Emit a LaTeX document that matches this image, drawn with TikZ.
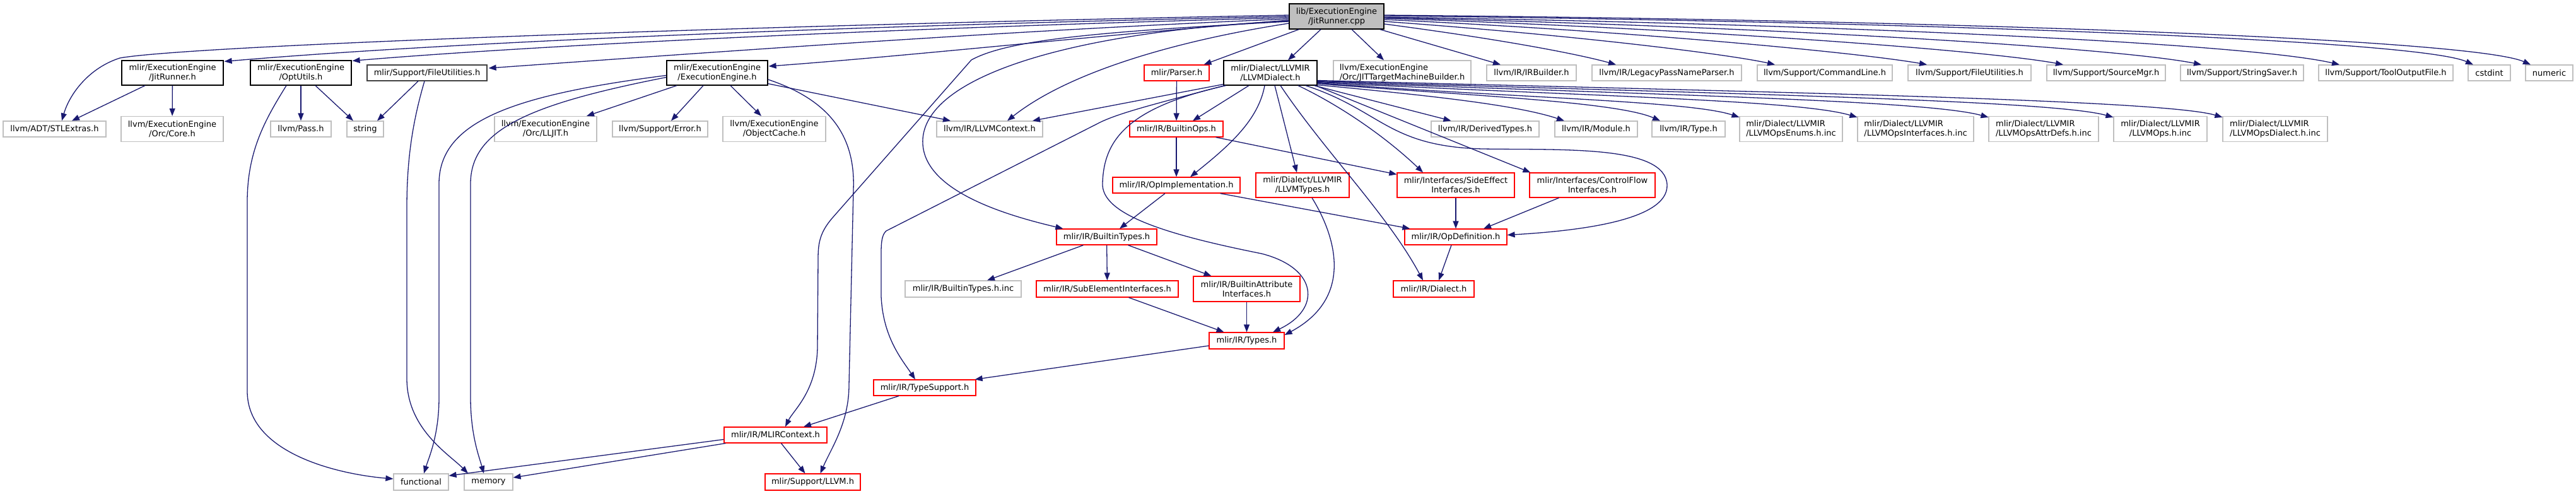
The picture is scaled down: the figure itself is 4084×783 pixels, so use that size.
\documentclass[tikz,border=0pt]{standalone}
\usepackage{fontspec}
\setmainfont{DejaVu Sans}
\usetikzlibrary{arrows.meta,calc}
\definecolor{edgec}{HTML}{191970}
\definecolor{grayb}{HTML}{BFBFBF}
\definecolor{redb}{HTML}{FF0000}
\definecolor{cppfill}{HTML}{BFBFBF}
\tikzset{
 gn/.style={rectangle, draw, fill=white, line width=1.2bp, inner sep=0pt,
   font=\fontsize{13bp}{15bp}\selectfont, align=center, text=black},
 gb/.style={gn, draw=grayb},
 rb/.style={gn, draw=redb},
 kb/.style={gn, draw=black},
 one/.style={minimum height=25bp},
 two/.style={minimum height=39bp},
 e/.style={draw=edgec, line width=1.3bp, -{Triangle[length=12bp,width=9bp]}},
}
\begin{document}
\begin{tikzpicture}[x=1bp,y=-1bp]
\useasboundingbox (0,0) rectangle (4084,783);
% ---- nodes ----
\node[kb, fill=cppfill, minimum width=150bp, minimum height=40bp] (cpp) at (2119,26) {lib/ExecutionEngine\\/JitRunner.cpp};
% row 1
\node[kb, two, minimum width=161bp] (jrh) at (273.5,115.5) {mlir/ExecutionEngine\\/JitRunner.h};
\node[kb, two, minimum width=160bp] (opt) at (477,115.5) {mlir/ExecutionEngine\\/OptUtils.h};
\node[kb, draw=black!75, one, minimum width=190bp] (mfu) at (677,115.5) {mlir/Support/FileUtilities.h};
\node[kb, two, minimum width=160bp] (eeh) at (1137,115.5) {mlir/ExecutionEngine\\/ExecutionEngine.h};
\node[rb, one, minimum width=103bp] (parser) at (1865.5,115.5) {mlir/Parser.h};
\node[kb, two, minimum width=148bp] (llvmd) at (2014,115.5) {mlir/Dialect/LLVMIR\\/LLVMDialect.h};
\node[gb, two, minimum width=218bp, align=left] (jtmb) at (2223,115.5) {llvm/ExecutionEngine\\/Orc/JITTargetMachineBuilder.h};
\node[gb, one, minimum width=142bp] (irb) at (2428,115.5) {llvm/IR/IRBuilder.h};
\node[gb, one, minimum width=237bp] (lpnp) at (2642.5,115.5) {llvm/IR/LegacyPassNameParser.h};
\node[gb, one, minimum width=214bp] (cl) at (2893,115.5) {llvm/Support/CommandLine.h};
\node[gb, one, minimum width=195bp] (lfu) at (3122.5,115.5) {llvm/Support/FileUtilities.h};
\node[gb, one, minimum width=188bp] (sm) at (3339,115.5) {llvm/Support/SourceMgr.h};
\node[gb, one, minimum width=195bp] (ss) at (3554.5,115.5) {llvm/Support/StringSaver.h};
\node[gb, one, minimum width=213bp] (tof) at (3782.5,115.5) {llvm/Support/ToolOutputFile.h};
\node[gb, one, minimum width=67bp] (cstdint) at (3946.5,115.5) {cstdint};
\node[gb, one, minimum width=75bp] (numeric) at (4041.5,115.5) {numeric};
% row 2
\node[gb, one, minimum width=163bp] (stl) at (86.5,204.5) {llvm/ADT/STLExtras.h};
\node[gb, minimum height=40bp, minimum width=162bp] (orc) at (273,204.5) {llvm/ExecutionEngine\\/Orc/Core.h};
\node[gb, one, minimum width=96bp] (pass) at (477,204.5) {llvm/Pass.h};
\node[gb, one, minimum width=58bp] (string) at (579,204.5) {string};
\node[gb, minimum height=40bp, minimum width=162bp] (lljit) at (865,204.5) {llvm/ExecutionEngine\\/Orc/LLJIT.h};
\node[gb, one, minimum width=151bp] (err) at (1046.5,204.5) {llvm/Support/Error.h};
\node[gb, minimum height=40bp, minimum width=163bp] (oc) at (1227.5,204.5) {llvm/ExecutionEngine\\/ObjectCache.h};
\node[gb, one, minimum width=168bp] (llvmctx) at (1569,204.5) {llvm/IR/LLVMContext.h};
\node[rb, one, minimum width=148bp] (bops) at (1865,204.5) {mlir/IR/BuiltinOps.h};
\node[gb, one, minimum width=171bp] (dt) at (2354.5,204.5) {llvm/IR/DerivedTypes.h};
\node[gb, one, minimum width=131bp] (mod) at (2530.5,204.5) {llvm/IR/Module.h};
\node[gb, one, minimum width=116bp] (type) at (2677,204.5) {llvm/IR/Type.h};
\node[gb, minimum height=40bp, minimum width=163bp, align=left] (enums) at (2839.5,204.5) {mlir/Dialect/LLVMIR\\/LLVMOpsEnums.h.inc};
\node[gb, minimum height=40bp, minimum width=184bp, align=left] (ifc) at (3037,204.5) {mlir/Dialect/LLVMIR\\/LLVMOpsInterfaces.h.inc};
\node[gb, minimum height=40bp, minimum width=174bp, align=left] (attr) at (3240,204.5) {mlir/Dialect/LLVMIR\\/LLVMOpsAttrDefs.h.inc};
\node[gb, minimum height=40bp, minimum width=148bp] (ops) at (3425,204.5) {mlir/Dialect/LLVMIR\\/LLVMOps.h.inc};
\node[gb, minimum height=40bp, minimum width=166bp, align=left] (opsd) at (3607,204.5) {mlir/Dialect/LLVMIR\\/LLVMOpsDialect.h.inc};
% row 3
\node[rb, one, minimum width=202bp] (opimpl) at (1865,293.5) {mlir/IR/OpImplementation.h};
\node[rb, two, minimum width=148bp] (llvmt) at (2065,293.5) {mlir/Dialect/LLVMIR\\/LLVMTypes.h};
\node[rb, two, minimum width=186bp] (se) at (2308,293.5) {mlir/Interfaces/SideEffect\\Interfaces.h};
\node[rb, two, minimum width=199bp] (cf) at (2524.5,293.5) {mlir/Interfaces/ControlFlow\\Interfaces.h};
% row 4
\node[rb, one, minimum width=159bp] (btypes) at (1754.5,375.5) {mlir/IR/BuiltinTypes.h};
\node[rb, one, minimum width=162bp] (opdef) at (2308,375.5) {mlir/IR/OpDefinition.h};
% row 5
\node[gb, minimum height=26bp, minimum width=184bp] (btinc) at (1527,458) {mlir/IR/BuiltinTypes.h.inc};
\node[rb, minimum height=26bp, minimum width=225bp] (subel) at (1755.5,458) {mlir/IR/SubElementInterfaces.h};
\node[rb, minimum height=40bp, minimum width=169bp] (bai) at (1976.5,458) {mlir/IR/BuiltinAttribute\\Interfaces.h};
\node[rb, minimum height=26bp, minimum width=128bp] (dialect) at (2273,458) {mlir/IR/Dialect.h};
% rows 6-9
\node[rb, minimum height=26bp, minimum width=119bp] (types) at (1976.5,540) {mlir/IR/Types.h};
\node[rb, one, minimum width=162bp] (tsup) at (1466,614.5) {mlir/IR/TypeSupport.h};
\node[rb, one, minimum width=163bp] (mctx) at (1229.5,689.5) {mlir/IR/MLIRContext.h};
\node[gb, minimum height=26bp, minimum width=87bp] (functional) at (667.5,764) {functional};
\node[gb, minimum height=26bp, minimum width=77bp] (memory) at (774.5,764) {memory};
\node[rb, minimum height=26bp, minimum width=151bp] (sllvm) at (1288.5,764) {mlir/Support/LLVM.h};

% ---- edges from the .cpp, going left ----
\draw[e] ($(cpp.west)+(0,-2)$) .. controls (1200,40) and (300,72) .. (190,92) .. controls (140,108) and (110,150) .. ($(stl.north)+(11.5,0)$);
\draw[e] (cpp.west) .. controls (1300,42) and (700,68) .. ($(jrh.north east)+(1,2)$);
\draw[e] ($(cpp.west)+(0,2)$) .. controls (1400,45) and (850,72) .. ($(opt.north east)+(1,1)$);
\draw[e] ($(cpp.west)+(0,4)$) .. controls (1600,48) and (1100,85) .. ($(mfu.east)+(2,-7.5)$);
\draw[e] ($(cpp.west)+(0,6)$) .. controls (1750,55) and (1450,88) .. ($(eeh.east)+(1,-10.5)$);
\draw[e] ($(cpp.west)+(0,11)$) .. controls (1880,62) and (1700,110) .. ($(llvmctx.north)+(28,0)$);
\draw[e] ($(cpp.west)+(0,8)$) .. controls (1750,50) and (1600,62) .. (1540,95) -- (1320,345) .. controls (1300,368) and (1297,385) .. (1297,410) -- (1296,550) .. controls (1295,620) and (1258,650) .. ($(mctx.north)+(15.5,0)$);
\draw[e] ($(cpp.west)+(0,7)$) .. controls (1700,50) and (1470,120) .. (1463,220) .. controls (1458,300) and (1590,340) .. ($(btypes.north west)+(11,0)$);
% ---- from the .cpp, downwards ----
\draw[e] ($(cpp.south west)+(16,0)$) -- ($(parser.north)+(43,0)$);
\draw[e] ($(cpp.south)+(-25,0)$) -- ($(llvmd.north)+(28,0)$);
\draw[e] ($(cpp.south)+(24,0)$) -- ($(jtmb.north)+(-29,0)$);
\draw[e] ($(cpp.south east)+(-7,0)$) -- ($(irb.north)+(-49,0)$);
% ---- from the .cpp, going right ----
\draw[e] ($(cpp.east)+(0,12)$) .. controls (2400,65) and (2510,88) .. ($(lpnp.north)+(-80.5,0)$);
\draw[e] ($(cpp.east)+(0,8)$) .. controls (2500,56) and (2740,86) .. ($(cl.north)+(-79,0)$);
\draw[e] ($(cpp.east)+(0,5)$) .. controls (2600,50) and (2950,84) .. ($(lfu.north)+(-67.5,0)$);
\draw[e] ($(cpp.east)+(0,3)$) .. controls (2700,46) and (3150,80) .. ($(sm.north)+(-68,0)$);
\draw[e] ($(cpp.east)+(0,2)$) .. controls (2800,42) and (3350,75) .. ($(ss.north)+(-64.5,0)$);
\draw[e] ($(cpp.east)+(0,1)$) .. controls (2900,38) and (3560,68) .. ($(tof.north)+(-73.5,0)$);
\draw[e] ($(cpp.east)+(0,-1)$) .. controls (3000,34) and (3830,62) .. ($(cstdint.north)+(-25.5,0)$);
\draw[e] ($(cpp.east)+(0,-2)$) .. controls (3100,32) and (3920,62) .. ($(numeric.north)+(-29.5,0)$);
% ---- ExecutionEngine.h ----
\draw[e] ($(eeh.south)+(-64,0)$) -- ($(lljit.north)+(65,0)$);
\draw[e] ($(eeh.south)+(-22,0)$) -- ($(err.north)+(17.5,0)$);
\draw[e] ($(eeh.south)+(21,0)$) -- ($(oc.north)+(-20.5,0)$);
\draw[e] ($(eeh.south east)+(0,-3)$) -- ($(llvmctx.north)+(-62,0)$);
\draw[e] ($(eeh.east)+(0,10.5)$) .. controls (1320,160) and (1356,220) .. (1353,300) -- (1346,610) .. controls (1346,670) and (1318,710) .. ($(sllvm.north)+(12,0)$);
\draw[e] ($(eeh.west)+(0,4)$) .. controls (820,150) and (697,190) .. (696,290) -- (696,630) .. controls (696,690) and (680,725) .. ($(functional.north)+(4.5,0)$);
\draw[e] ($(eeh.west)+(0,7)$) .. controls (840,165) and (747,205) .. (746,290) -- (746,630) .. controls (746,690) and (760,725) .. ($(memory.north)+(-7.5,0)$);
% ---- mlir/Support/FileUtilities.h ----
\draw[e] ($(mfu.south)+(-14,0)$) -- ($(string.north)+(19,0)$);
\draw[e] ($(mfu.south)+(-4,0)$) .. controls (652,200) and (645,260) .. (645,330) -- (645,600) .. controls (645,680) and (712,720) .. ($(memory.north)+(-32.5,0)$);
% ---- OptUtils.h ----
\draw[e] (opt) -- (pass);
\draw[e] ($(opt.south)+(23,0)$) -- ($(string.north)+(-19,0)$);
\draw[e] ($(opt.south)+(-23,0)$) .. controls (420,190) and (392,240) .. (392,320) -- (392,620) .. controls (392,720) and (540,752) .. ($(functional.west)+(0,-5)$);
% ---- JitRunner.h ----
\draw[e] ($(jrh.south)+(-43.5,0)$) -- ($(stl.north)+(27.5,0)$);
\draw[e] (jrh) -- (orc);
% ---- LLVMDialect.h ----
\draw[e] ($(llvmd.south west)+(0,-2)$) -- ($(llvmctx.north)+(68,0)$);
\draw[e] ($(llvmd.south west)+(2,0)$) .. controls (1830,165) and (1770,180) .. (1740,196) -- (1405,366) .. controls (1398,372) and (1397,385) .. (1397,400) -- (1397,470) .. controls (1400,535) and (1430,570) .. ($(tsup.north)+(-15,0)$);
\draw[e] ($(llvmd.south west)+(4,0)$) .. controls (1790,170) and (1750,220) .. (1748,290) .. controls (1745,340) and (1850,372) .. (2000,402) .. controls (2090,425) and (2095,490) .. ($(types.north)+(41.5,0)$);
\draw[e] ($(llvmd.south)+(-34,0)$) -- ($(bops.north)+(26,0)$);
\draw[e] ($(llvmd.south)+(-9,0)$) .. controls (1995,190) and (1950,230) .. ($(opimpl.north)+(22,0)$);
\draw[e] ($(llvmd.south)+(7,0)$) -- ($(llvmt.north)+(-9,0)$);
\draw[e] ($(llvmd.south)+(44,0)$) .. controls (2130,170) and (2200,220) .. ($(se.north)+(-52,0)$);
\draw[e] ($(llvmd.south east)+(-3,0)$) -- ($(cf.north west)+(2,0)$);
\draw[e] ($(llvmd.south)+(56,0)$) .. controls (2190,175) and (2200,232) .. (2350,236) .. controls (2480,238) and (2640,230) .. (2643,293) .. controls (2645,350) and (2500,366) .. ($(opdef.east)+(0,-3)$);
\draw[e] ($(llvmd.south)+(16,0)$) .. controls (2100,240) and (2200,340) .. ($(dialect.north)+(-17,0)$);
\draw[e] ($(llvmd.south east)+(-5,0)$) -- ($(dt.north)+(-54,0)$);
\draw[e] ($(llvmd.south east)+(0,-1)$) .. controls (2250,150) and (2400,165) .. ($(mod.north)+(-50.5,0)$);
\draw[e] ($(llvmd.east)+(0,17)$) .. controls (2300,150) and (2560,160) .. ($(type.north)+(-45,0)$);
\draw[e] ($(llvmd.east)+(0,16)$) .. controls (2400,155) and (2680,160) .. ($(enums.north west)+(0,2)$);
\draw[e] ($(llvmd.east)+(0,15)$) .. controls (2500,152) and (2850,158) .. ($(ifc.north west)+(0,2)$);
\draw[e] ($(llvmd.east)+(0,14)$) .. controls (2600,150) and (3050,158) .. ($(attr.north west)+(0,2)$);
\draw[e] ($(llvmd.east)+(0,13)$) .. controls (2700,148) and (3250,158) .. ($(ops.north west)+(0,2)$);
\draw[e] ($(llvmd.east)+(0,12)$) .. controls (2800,146) and (3430,158) .. ($(opsd.north west)+(0,2)$);
% ---- the rest ----
\draw[e] (parser) -- (bops);
\draw[e] (bops) -- (opimpl);
\draw[e] ($(bops.south east)+(-12,0)$) -- ($(se.north west)+(0,3)$);
\draw[e] ($(opimpl.south)+(-18,0)$) -- ($(btypes.north)+(20.5,0)$);
\draw[e] ($(opimpl.south east)+(-32,0)$) -- ($(opdef.north west)+(9,0)$);
\draw[e] ($(llvmt.south)+(15,0)$) .. controls (2115,370) and (2150,470) .. ($(types.east)+(0,-9)$);
\draw[e] (se) -- (opdef);
\draw[e] ($(cf.south)+(-53,0)$) -- ($(opdef.north)+(44,0)$);
\draw[e] ($(opdef.south)+(-7,0)$) -- ($(dialect.north)+(8,0)$);
\draw[e] ($(btypes.south)+(-37,0)$) -- ($(btinc.north)+(38,0)$);
\draw[e] (btypes) -- (subel);
\draw[e] ($(btypes.south)+(34,0)$) -- ($(bai.north)+(-56,0)$);
\draw[e] ($(subel.south)+(34,0)$) -- ($(types.north)+(-36,0)$);
\draw[e] (bai) -- (types);
\draw[e] ($(types.west)+(0,8)$) -- ($(tsup.north east)+(-2,0)$);
\draw[e] ($(tsup.south)+(-41,0)$) -- ($(mctx.north)+(44.5,0)$);
\draw[e] ($(mctx.west)+(0,7)$) -- ($(functional.east)+(0,-10)$);
\draw[e] ($(mctx.south west)+(3,0)$) -- ($(memory.east)+(0,-7)$);
\draw[e] ($(mctx.south)+(9,0)$) -- ($(sllvm.north)+(-12,0)$);
\end{tikzpicture}
\end{document}
